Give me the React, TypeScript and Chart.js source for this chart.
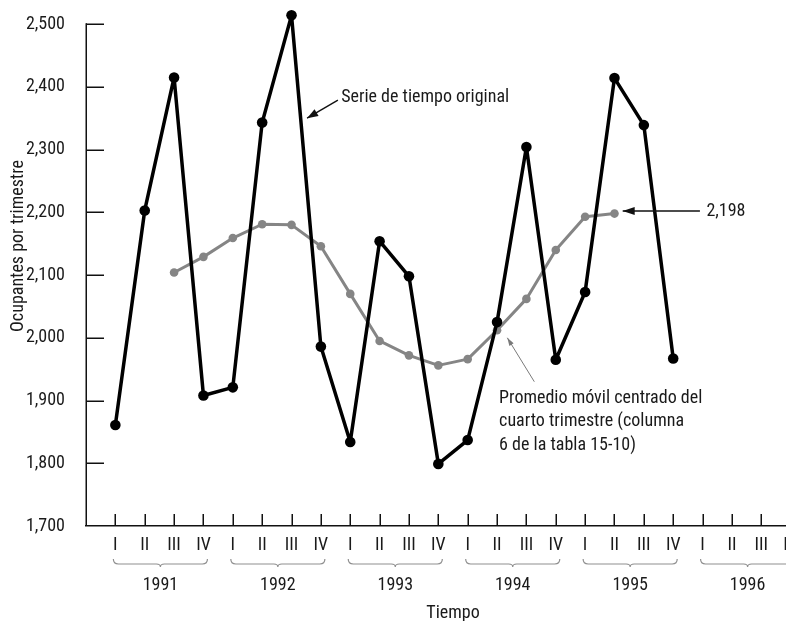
import { useEffect, useRef } from 'react';
import { Chart, registerables } from 'chart.js';

Chart.register(...registerables);

// ---- data ----
const quarterLabels = ['I', 'II', 'III', 'IV'];
const yearLabels = ['1991', '1992', '1993', '1994', '1995', '1996'];
// Quarterly occupancy, 1991 I .. 1995 IV
const originalSeries = [
  1861, 2203, 2415, 1908,
  1921, 2343, 2514, 1986,
  1834, 2154, 2098, 1799,
  1837, 2025, 2304, 1965,
  2073, 2414, 2339, 1967,
];
// Centered 4-quarter moving average, 1991 III .. 1995 II
const movingAverage = [
  2104, 2129,
  2159, 2181, 2180, 2146,
  2070, 1995, 1972, 1956,
  1966, 2012, 2062, 2140,
  2193, 2198,
];
const movingAverageStart = 2; // first quarter (index) with a centered average
const yTickValues = [1700, 1800, 1900, 2000, 2100, 2200, 2300, 2400, 2500];
const yHeadroom = 2530; // scale top, leaves room for the 2,514 peak
const lastValueLabel = '2,198';
const seriesLabel = 'Serie de tiempo original';
const averageLabelLines = [
  'Promedio móvil centrado del',
  'cuarto trimestre (columna',
  '6 de la tabla 15-10)',
];
const yTitle = 'Ocupantes por trimestre';
const xTitle = 'Tiempo';

const yMin = yTickValues[0];
const yMax = yTickValues[yTickValues.length - 1];

// ---- style ----
const FONT_FAMILY = '"Roboto Condensed", "Liberation Sans Narrow", "DejaVu Sans Condensed", sans-serif';
const FONT_SIZE = 18;
const TEXT = '#1a1a1a';
const AXIS = '#111111';
const GRAY = '#858585';
const BRACE = '#8f8f8f';

const decorPlugin = {
  id: 'decor',
  beforeDatasetsDraw(chart: any) {
    const { ctx, chartArea, scales } = chart;
    const x = scales.x;
    const y = scales.y;
    ctx.save();
    ctx.strokeStyle = AXIS;
    ctx.lineWidth = 1.5;
    // y axis line, from the lowest to the highest labelled tick
    ctx.beginPath();
    ctx.moveTo(chartArea.left + 0.25, y.getPixelForValue(yMin));
    ctx.lineTo(chartArea.left + 0.25, y.getPixelForValue(yMax) - 0.75);
    ctx.stroke();
    // inward y ticks
    yTickValues.slice(1).forEach((v) => {
      const py = Math.round(y.getPixelForValue(v)) + 0.25;
      ctx.beginPath();
      ctx.moveTo(chartArea.left, py);
      ctx.lineTo(chartArea.left + 18, py);
      ctx.stroke();
    });
    // upward x ticks
    const n = yearLabels.length * quarterLabels.length;
    for (let i = 0; i < n; i++) {
      const px = Math.round(x.getPixelForValue(i)) + 0.25;
      ctx.beginPath();
      ctx.moveTo(px, chartArea.bottom);
      ctx.lineTo(px, chartArea.bottom - 12);
      ctx.stroke();
    }
    ctx.restore();
  },
  afterDraw(chart: any) {
    const { ctx, chartArea, scales } = chart;
    const x = scales.x;
    const y = scales.y;
    const P = (xv: number, yv: number) => [x.getPixelForValue(xv), y.getPixelForValue(yv)];
    const font = `${FONT_SIZE}px ${FONT_FAMILY}`;
    ctx.save();

    // braces + years
    const b = chartArea.bottom;
    ctx.strokeStyle = BRACE;
    ctx.lineWidth = 1.2;
    ctx.fillStyle = TEXT;
    ctx.font = font;
    ctx.textAlign = 'center';
    ctx.textBaseline = 'middle';
    yearLabels.forEach((yr, k) => {
      const xa = x.getPixelForValue(k * 4);
      const xb = x.getPixelForValue(k * 4 + 3);
      const x0 = xa - 2;
      const x1 = xb + 4;
      const xm = (x0 + x1) / 2;
      const top = b + 33;
      const line = b + 38;
      const tip = b + 41;
      ctx.beginPath();
      ctx.moveTo(x0, top);
      ctx.quadraticCurveTo(x0, line, x0 + 5, line);
      ctx.lineTo(xm - 4, line);
      ctx.quadraticCurveTo(xm, line, xm, tip);
      ctx.quadraticCurveTo(xm, line, xm + 4, line);
      ctx.lineTo(x1 - 5, line);
      ctx.quadraticCurveTo(x1, line, x1, top);
      ctx.stroke();
      ctx.fillText(yr, (xa + xb) / 2 + 1, b + 59);
    });

    // y title
    ctx.save();
    ctx.translate(18, 246);
    ctx.rotate(-Math.PI / 2);
    ctx.textAlign = 'center';
    ctx.textBaseline = 'middle';
    ctx.fillText(yTitle, 0, 0);
    ctx.restore();

    const arrowHead = (tx: number, ty: number, fx: number, fy: number, len: number, half: number, color: string) => {
      const ang = Math.atan2(fy - ty, fx - tx);
      const ux = Math.cos(ang), uy = Math.sin(ang);
      const bx = tx + ux * len, by = ty + uy * len;
      ctx.beginPath();
      ctx.moveTo(tx, ty);
      ctx.lineTo(bx - uy * half, by + ux * half);
      ctx.lineTo(bx + uy * half, by - ux * half);
      ctx.closePath();
      ctx.fillStyle = color;
      ctx.fill();
    };

    // "Serie de tiempo original"
    ctx.textAlign = 'left';
    ctx.textBaseline = 'middle';
    ctx.fillStyle = TEXT;
    {
      const [tx, ty] = P(7.69, 2383);
      ctx.fillText(seriesLabel, tx, ty);
      const [ax, ay] = P(7.58, 2379);
      const [hx, hy] = P(6.53, 2350);
      ctx.strokeStyle = AXIS;
      ctx.lineWidth = 1.4;
      ctx.beginPath();
      ctx.moveTo(ax, ay);
      ctx.lineTo(hx, hy);
      ctx.stroke();
      arrowHead(hx, hy, ax, ay, 11, 4, AXIS);
    }

    // 2,198 label
    {
      const [tx, ty] = P(20.13, 2202);
      ctx.fillStyle = TEXT;
      ctx.fillText(lastValueLabel, tx, ty);
      const [ax] = P(19.91, 2202);
      const [hx] = P(17.28, 2202);
      ctx.strokeStyle = AXIS;
      ctx.lineWidth = 1.4;
      ctx.beginPath();
      ctx.moveTo(ax, ty);
      ctx.lineTo(hx, ty);
      ctx.stroke();
      arrowHead(hx, ty, ax, ty, 12, 4, AXIS);
    }

    // moving-average note
    {
      ctx.fillStyle = TEXT;
      const vals = [1904, 1866, 1829];
      averageLabelLines.forEach((ln, i) => {
        const [tx, ty] = P(13.07, vals[i]);
        ctx.fillText(ln, tx, ty);
      });
      const [ax, ay] = P(14.27, 1930);
      const [hx, hy] = P(13.35, 2000);
      ctx.strokeStyle = '#7a7a7a';
      ctx.lineWidth = 1;
      ctx.beginPath();
      ctx.moveTo(ax, ay);
      ctx.lineTo(hx, hy);
      ctx.stroke();
      arrowHead(hx, hy, ax, ay, 8, 2.5, '#7a7a7a');
    }

    ctx.restore();
  },
};

export default function App() {
  const ref = useRef<HTMLCanvasElement | null>(null);

  useEffect(() => {
    const canvas = ref.current;
    if (!canvas) return;
    const font = { family: FONT_FAMILY, size: FONT_SIZE };
    const originalPoints = originalSeries.map((v, i) => ({ x: i, y: v }));
    const averagePoints = movingAverage.map((v, i) => ({ x: i + movingAverageStart, y: v }));
    const nQuarters = yearLabels.length * quarterLabels.length;
    // keep 2,500 at the reference's axis top (y≈23) while the scale runs a bit higher
    const pxPerUnit = (526 - 23.3) / (yMax - yMin);
    const topPad = 23.3 - (yHeadroom - yMax) * pxPerUnit;

    const chart = new Chart(canvas, {
      type: 'line',
      data: {
        datasets: [
          {
            label: seriesLabel,
            data: originalPoints,
            borderColor: '#000000',
            backgroundColor: '#000000',
            borderWidth: 3.5,
            borderJoinStyle: 'round',
            pointRadius: 5.3,
            pointBorderWidth: 0,
            pointBackgroundColor: '#000000',
            tension: 0,
            clip: false,
          },
          {
            label: 'Promedio móvil',
            data: averagePoints,
            borderColor: GRAY,
            backgroundColor: GRAY,
            borderWidth: 3,
            borderJoinStyle: 'round',
            pointRadius: 4.3,
            pointBorderWidth: 0,
            pointBackgroundColor: GRAY,
            tension: 0,
            clip: false,
          },
        ],
      },
      options: {
        animation: false,
        responsive: false,
        devicePixelRatio: 1,
        layout: { padding: { top: topPad, right: 10, bottom: 0, left: 0 } },
        plugins: {
          legend: { display: false },
          tooltip: { enabled: false },
        },
        scales: {
          x: {
            type: 'linear',
            min: -1,
            max: nQuarters,
            afterFit: (s: any) => {
              s.height = 114;
              s.paddingLeft = 0;
              s.paddingRight = 0;
            },
            grid: { display: false },
            border: { display: true, color: AXIS, width: 1.5 },
            ticks: {
              stepSize: 1,
              autoSkip: false,
              maxRotation: 0,
              minRotation: 0,
              padding: 1,
              color: TEXT,
              font,
              callback: (v: any) => {
                const n = Number(v);
                return Number.isInteger(n) && n >= 0 && n < nQuarters ? quarterLabels[n % 4] : '';
              },
            },
            title: {
              display: true,
              text: xTitle,
              color: TEXT,
              font,
              padding: { top: 0, bottom: 16 },
            },
          },
          y: {
            type: 'linear',
            min: yMin,
            max: yHeadroom,
            afterBuildTicks: (s: any) => {
              s.ticks = yTickValues.map((v) => ({ value: v }));
            },
            afterFit: (s: any) => {
              s.width = 86;
              s.paddingTop = 0;
              s.paddingBottom = 0;
            },
            grid: { display: false },
            border: { display: false },
            ticks: {
              padding: 13,
              color: TEXT,
              font,
              callback: (v: any) => Number(v).toLocaleString('en-US'),
            },
          },
        },
      },
      plugins: [decorPlugin],
    });
    return () => chart.destroy();
  }, []);

  return (
    <div style={{ position: 'fixed', left: 0, top: 0, width: 786, height: 621, overflow: 'hidden', background: '#ffffff' }}>
      <canvas ref={ref} width={830} height={640} style={{ display: 'block', width: 830, height: 640 }} />
    </div>
  );
}
